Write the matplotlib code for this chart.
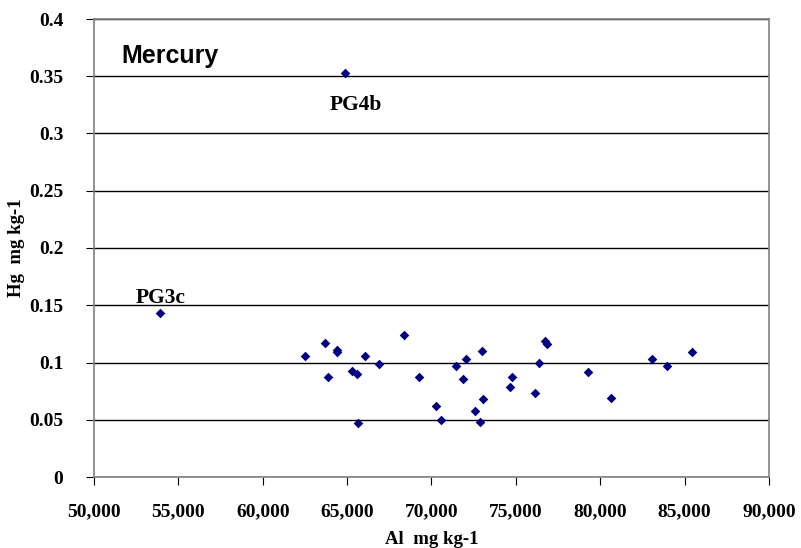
import matplotlib
matplotlib.use("Agg")
import matplotlib.pyplot as plt
from matplotlib.ticker import FuncFormatter, MultipleLocator

al = [53890, 64870, 62500, 63670, 63880, 64380, 64380, 65270, 65590, 65670,
      66080, 66870, 68370, 69260, 70240, 70580, 71450, 71870, 72070, 72550,
      72870, 72970, 73050, 74630, 74750, 76150, 76350, 76740, 76820, 79250,
      80640, 83040, 83930, 85440]
hg = [0.143, 0.353, 0.106, 0.117, 0.087, 0.111, 0.109, 0.093, 0.090, 0.047,
      0.106, 0.099, 0.124, 0.087, 0.062, 0.050, 0.097, 0.086, 0.103, 0.058,
      0.048, 0.110, 0.068, 0.079, 0.087, 0.073, 0.100, 0.119, 0.116, 0.092,
      0.069, 0.103, 0.097, 0.109]

serif = "Liberation Serif"
fig = plt.figure(figsize=(8.01, 5.48), dpi=100)
ax = fig.add_axes([94/801, 1-477/548, (769-94)/801, (477-19)/548])
ax.set_xlim(50000, 90000)
ax.set_ylim(0, 0.4)
ax.yaxis.set_major_locator(MultipleLocator(0.05))
ax.xaxis.set_major_locator(MultipleLocator(5000))
ax.grid(axis="y", color="black", linewidth=1.0)
ax.set_axisbelow(True)
ax.scatter(al, hg, marker="D", s=24, color="#000080", zorder=3, linewidths=0)

ax.xaxis.set_major_formatter(FuncFormatter(lambda v, p: f"{int(v):,}"))
ax.yaxis.set_major_formatter(FuncFormatter(lambda v, p: f"{v:g}"))
for lab in ax.get_xticklabels() + ax.get_yticklabels():
    lab.set_fontfamily(serif)
    lab.set_fontweight("bold")
    lab.set_fontsize(14)
ax.tick_params(axis="x", direction="out", length=6, color="black", pad=13)
ax.tick_params(axis="y", direction="out", length=6, color="black", pad=16)

for s in ax.spines.values():
    s.set_color("#808080")
    s.set_linewidth(1.2)

ax.set_xlabel("Al  mg kg-1", fontfamily=serif, fontweight="bold", fontsize=13.5, labelpad=7.5)
ax.set_ylabel("Hg  mg kg-1", fontfamily=serif, fontweight="bold", fontsize=13.5, labelpad=3)

ax.text(52490, 0.1518, "PG3c", fontfamily=serif, fontweight="bold", fontsize=15.5, ha="left", va="baseline")
ax.text(65530, 0.3337, "PG4b", fontfamily=serif, fontweight="bold", fontsize=15.5, ha="center", va="top")
ax.text(51600, 0.3619, "Mercury", fontfamily="Liberation Sans", fontweight="bold", fontsize=18, ha="left", va="baseline")

fig.savefig("out.png", dpi=100)
